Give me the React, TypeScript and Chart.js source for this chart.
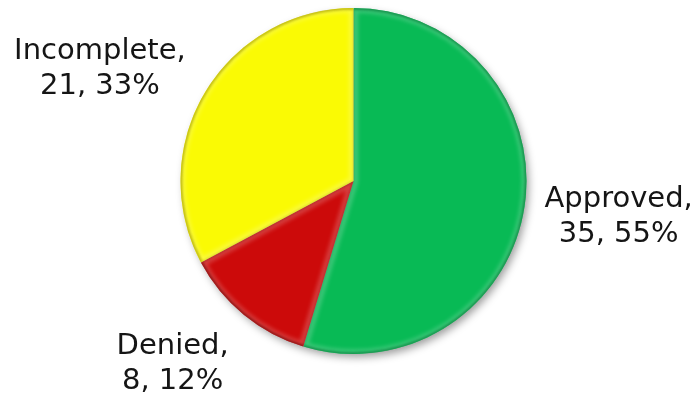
import React, { useEffect, useRef } from "react";
import { Chart, registerables } from "chart.js";

Chart.register(...registerables);

const categories = ["Approved", "Denied", "Incomplete"];
const counts = [35, 8, 21];
const percents = ["55%", "12%", "33%"];
const colors = ["#08BA55", "#CC0A0A", "#FAFA04"];
const rimColors = ["#05803A", "#7A0505", "#A8A000"];
// label nudges relative to a radial anchor (px)
const labelNudge = [
  { dx: 5, dy: -13 },
  { dx: -14, dy: -30 },
  { dx: -28, dy: 13 },
];

const shadowPlugin = {
  id: "pieShadow",
  beforeDatasetsDraw(chart: any) {
    const meta = chart.getDatasetMeta(0);
    const a = meta.data[0];
    if (!a) return;
    const { x, y, outerRadius } = a.getProps(["x", "y", "outerRadius"], true);
    const ctx = chart.ctx;
    ctx.save();
    ctx.shadowColor = "rgba(0,0,0,0.4)";
    ctx.shadowBlur = 9;
    ctx.shadowOffsetX = 3;
    ctx.shadowOffsetY = 4;
    ctx.beginPath();
    ctx.arc(x, y, outerRadius - 1, 0, Math.PI * 2);
    ctx.fillStyle = "#777";
    ctx.fill();
    ctx.restore();
  },
  afterDatasetsDraw(chart: any) {
    const meta = chart.getDatasetMeta(0);
    const ctx = chart.ctx;
    meta.data.forEach((arc: any, i: number) => {
      const { x, y, startAngle, endAngle, outerRadius } = arc.getProps(
        ["x", "y", "startAngle", "endAngle", "outerRadius"],
        true
      );
      const path = () => {
        ctx.beginPath();
        ctx.moveTo(x, y);
        ctx.arc(x, y, outerRadius, startAngle, endAngle);
        ctx.closePath();
      };
      ctx.save();
      path();
      ctx.clip();
      // light bevel on all edges
      ctx.filter = "blur(2px)";
      path();
      ctx.lineWidth = 9;
      ctx.strokeStyle = "rgba(255,255,255,0.22)";
      ctx.stroke();
      // darker rim on outer arc, same hue
      ctx.filter = "blur(1.2px)";
      ctx.globalAlpha = 0.55;
      ctx.beginPath();
      ctx.arc(x, y, outerRadius, startAngle, endAngle);
      ctx.lineWidth = 4;
      ctx.strokeStyle = rimColors[i];
      ctx.stroke();
      // subtle line along radial edges
      ctx.globalAlpha = 0.35;
      ctx.filter = "blur(1px)";
      path();
      ctx.lineWidth = 2;
      ctx.strokeStyle = rimColors[i];
      ctx.stroke();
      ctx.restore();
    });
  },
};

const labelPlugin = {
  id: "outsideLabels",
  afterDraw(chart: any) {
    const meta = chart.getDatasetMeta(0);
    const ctx = chart.ctx;
    ctx.save();
    ctx.font = "29px 'DejaVu Sans'";
    ctx.fillStyle = "#151515";
    ctx.textAlign = "center";
    ctx.textBaseline = "alphabetic";
    meta.data.forEach((arc: any, i: number) => {
      const { x, y, startAngle, endAngle, outerRadius } = arc.getProps(
        ["x", "y", "startAngle", "endAngle", "outerRadius"],
        true
      );
      const mid = (startAngle + endAngle) / 2;
      const d = outerRadius + 90;
      const ax = x + Math.cos(mid) * d + labelNudge[i].dx;
      const ay = y + Math.sin(mid) * d + labelNudge[i].dy;
      ctx.fillText(categories[i] + ",", ax, ay);
      ctx.fillText(counts[i] + ", " + percents[i], ax, ay + 35);
    });
    ctx.restore();
  },
};

export default function App() {
  const ref = useRef<HTMLCanvasElement>(null);
  useEffect(() => {
    document.body.style.margin = "0";
    const chart = new Chart(ref.current!, {
      type: "pie",
      data: {
        labels: categories,
        datasets: [
          {
            data: counts,
            backgroundColor: colors,
            borderWidth: 0,
          },
        ],
      },
      options: {
        responsive: false,
        animation: false,
        layout: { padding: { left: 180, right: 170, top: 8, bottom: 43 } },
        plugins: {
          legend: { display: false },
          tooltip: { enabled: false },
        },
      },
      plugins: [shadowPlugin, labelPlugin],
    });
    return () => chart.destroy();
  }, []);
  return (
    <div style={{ width: 697, height: 397, background: "#fff" }}>
      <canvas ref={ref} width={697} height={397} />
    </div>
  );
}
